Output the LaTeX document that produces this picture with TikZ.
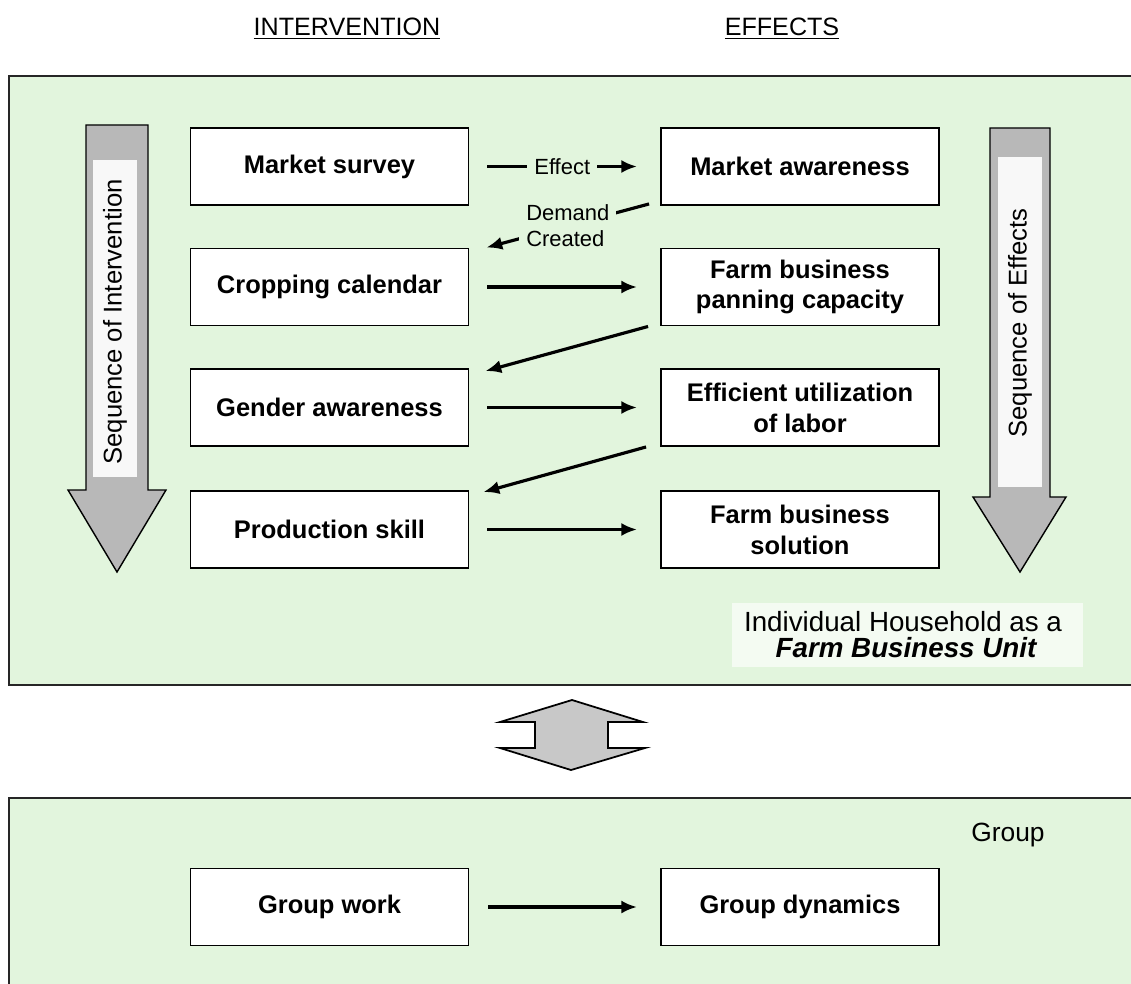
\documentclass[tikz,border=0pt]{standalone}
\usepackage{fontspec}
\setmainfont{Liberation Sans}
\usetikzlibrary{arrows.meta,calc}
\definecolor{panelgreen}{RGB}{226,245,221}
\definecolor{arrowgray}{RGB}{184,184,184}
\definecolor{linkgray}{RGB}{200,200,200}
\definecolor{stripwhite}{RGB}{248,248,248}
\definecolor{notewhite}{RGB}{244,251,242}
\begin{document}
\begin{tikzpicture}[x=0.02cm,y=-0.02cm,
  stepbox/.style={draw=black,line width=1.1pt,fill=white,minimum width=5.56cm,
    minimum height=1.54cm,inner sep=0pt,align=center,
    font=\fontsize{14.5}{17.6}\selectfont\bfseries},
  flow/.style={line width=1.8pt,-{Latex[length=9pt,width=7.5pt]}},
  panel/.style={draw=black!85,line width=1.2pt,fill=panelgreen},
  seqarrow/.style={draw=black,line width=0.8pt,fill=arrowgray},
  edgelabel/.style={font=\fontsize{12.5}{15}\selectfont,fill=panelgreen,
    inner xsep=4pt,inner ysep=1pt},
  heading/.style={font=\fontsize{14.3}{16}\selectfont},
  seqtext/.style={rotate=90,font=\fontsize{14.6}{16}\selectfont}
]
\useasboundingbox (0,0) rectangle (1131,983);
\clip (0,0) rectangle (1131,983);
\fill[white] (0,0) rectangle (1131,983);

% column headings
\node[heading] (hint) at (347,29) {\underline{INTERVENTION}};
\node[heading] (heff) at (782,29) {\underline{EFFECTS}};

% household and group panels
\draw[panel] (9,76) rectangle (1145,685);
\draw[panel] (9,798) rectangle (1145,1000);

% sequence arrows
\draw[seqarrow] (86,125) -- (148,125) -- (148,490) -- (166,490) -- (117,572)
  -- (68,490) -- (86,490) -- cycle;
\fill[stripwhite] (93,160) rectangle (137,477);
\node[seqtext] (seqint) at (115,322) {Sequence of Intervention};

\draw[seqarrow] (990,128) -- (1050,128) -- (1050,497) -- (1066,497) -- (1020,572)
  -- (973,497) -- (990,497) -- cycle;
\fill[stripwhite] (998,157) rectangle (1042,487);
\node[seqtext] (seqeff) at (1020,323) {Sequence of Effects};

% intervention column
\node[stepbox] (ms) at (329.5,166.5) {Market survey};
\node[stepbox] (cc) at (329.5,287) {Cropping calendar};
\node[stepbox] (ga) at (329.5,407.5) {Gender awareness};
\node[stepbox] (ps) at (329.5,529.5) {Production skill};

% effects column
\node[stepbox] (ma) at (800,166.5) {Market awareness};
\node[stepbox] (fb) at (800,287) {Farm business\\panning capacity};
\node[stepbox] (eu) at (800,407.5) {Efficient utilization\\of labor};
\node[stepbox] (fs) at (800,529.5) {Farm business\\solution};

% intervention -> effect
\draw[flow] ([xshift=0.36cm]ms.east) -- node[edgelabel] (leff) {Effect} ([xshift=-0.46cm]ma.west);
\draw[flow] ([xshift=0.36cm]cc.east) -- ([xshift=-0.46cm]fb.west);
\draw[flow] ([xshift=0.36cm]ga.east) -- ([xshift=-0.46cm]eu.west);
\draw[flow] ([xshift=0.36cm]ps.east) -- ([xshift=-0.46cm]fs.west);

% effect -> next intervention
\draw[flow] ([shift={(-11,-2)}]ma.south west) -- node[edgelabel,align=left,inner ysep=0pt] (ldem) {Demand\\Created} ([shift={(17,0)}]cc.north east);
\draw[flow] ([shift={(-12,0)}]fb.south west) -- ([shift={(16,3)}]ga.north east);
\draw[flow] ([shift={(-14,0)}]eu.south west) -- ([shift={(14,2)}]ps.north east);

% panel caption
\fill[notewhite] (732,603) rectangle (1083,667);
\node[font=\fontsize{15.8}{18}\selectfont] (hh) at (903,622) {Individual Household as a};
\node[font=\fontsize{15.8}{18}\selectfont\bfseries\itshape] (fbu) at (906,648) {Farm Business Unit};

% link between household and group
\draw[draw=black,line width=1pt,fill=linkgray] (572,700) -- (643,722) -- (608,722)
  -- (608,748) -- (645,748) -- (571,770) -- (500,748) -- (535,748) -- (535,722)
  -- (500,722) -- cycle;

% group panel
\node[font=\fontsize{15}{17}\selectfont] (grp) at (1008,835) {Group};
\node[stepbox] (gw) at (329.5,907) {Group work};
\node[stepbox] (gd) at (800,907) {Group dynamics};
\draw[flow] ([xshift=0.38cm]gw.east) -- ([xshift=-0.46cm]gd.west);
\end{tikzpicture}
\end{document}
